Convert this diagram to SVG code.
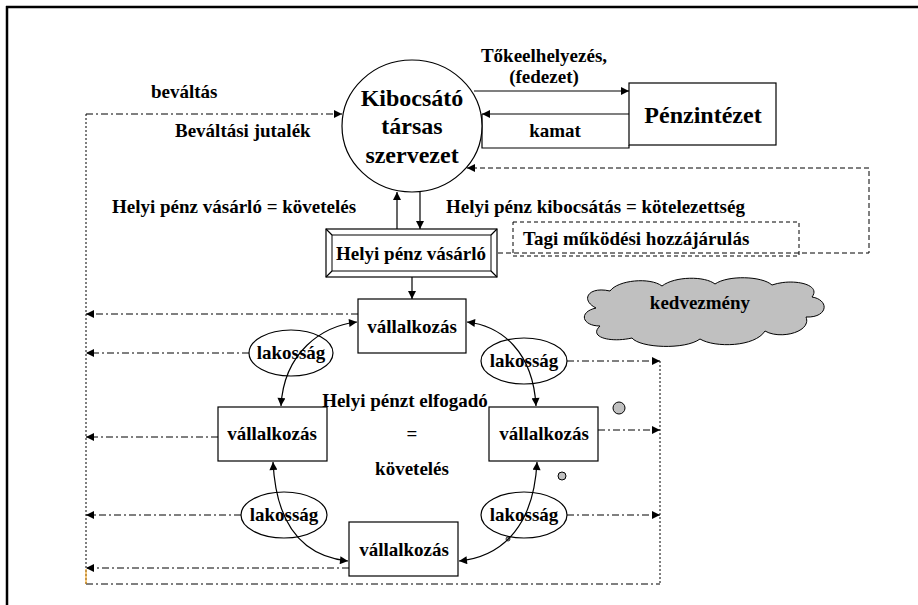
<svg xmlns="http://www.w3.org/2000/svg" width="918" height="605" viewBox="0 0 918 605">
<style>
text{font-family:'Liberation Serif','DejaVu Serif',serif;font-weight:bold;fill:#000}
.t19{font-size:19px}
.t24{font-size:24px}
.mid{text-anchor:middle}
.ln{stroke:#000;stroke-width:1.2;fill:none}
.dd{stroke:#000;stroke-width:1;fill:none;stroke-dasharray:7,3,2,3}
.dash{stroke:#000;stroke-width:1;fill:none;stroke-dasharray:5,3}
.dot{stroke:#000;stroke-width:1;fill:none;stroke-dasharray:2,2}
.box{fill:#fff;stroke:#000;stroke-width:1.2}
</style>
<defs>
<marker id="ah" viewBox="0 0 10 10" refX="10" refY="5" markerWidth="9" markerHeight="8" markerUnits="userSpaceOnUse" orient="auto-start-reverse">
<path d="M0,0 L10,5 L0,10 Z" fill="#000"/>
</marker>
</defs>
<rect width="918" height="605" fill="#fff"/>
<g id="frame">
<line x1="6" y1="7" x2="918" y2="7" stroke="#000" stroke-width="2.5"/>
<line x1="7" y1="6" x2="7" y2="605" stroke="#000" stroke-width="2.5"/>
</g>
<g id="connectors">
<line class="ln" x1="474" y1="91" x2="629" y2="91" marker-end="url(#ah)"/>
<line class="ln" x1="629" y1="114" x2="482" y2="114" marker-end="url(#ah)"/>
<polyline class="ln" points="482,114 482,148 629,148 629,145"/>
<line class="ln" x1="397" y1="229" x2="397" y2="192" marker-end="url(#ah)"/>
<line class="ln" x1="420" y1="192" x2="420" y2="229" marker-end="url(#ah)"/>
<line class="ln" x1="412" y1="277" x2="412" y2="299" marker-end="url(#ah)"/>
<polyline class="dash" points="498,253 869,253 869,168 467,168" marker-end="url(#ah)"/>
<line class="dd" x1="86" y1="114" x2="342" y2="114" marker-end="url(#ah)"/>
<line class="dot" x1="86" y1="114" x2="86" y2="584"/>
<line class="dd" x1="86" y1="584" x2="660" y2="584"/>
<line class="dot" x1="660" y1="361" x2="660" y2="584"/>
<line x1="86" y1="569" x2="86" y2="584" stroke="#f5a623" stroke-width="1.2"/>
<line class="dd" x1="358" y1="314" x2="86" y2="314" marker-end="url(#ah)"/>
<line class="dd" x1="249" y1="353" x2="86" y2="353" marker-end="url(#ah)"/>
<line class="dd" x1="218" y1="437" x2="86" y2="437" marker-end="url(#ah)"/>
<line class="dd" x1="241" y1="515" x2="86" y2="515" marker-end="url(#ah)"/>
<line class="dd" x1="349" y1="568" x2="86" y2="568" marker-end="url(#ah)"/>
<line class="dd" x1="567" y1="361" x2="660" y2="361" marker-end="url(#ah)"/>
<line class="dd" x1="598" y1="430" x2="660" y2="430" marker-end="url(#ah)"/>
<line class="dd" x1="567" y1="515" x2="660" y2="515" marker-end="url(#ah)"/>
</g>
<g id="kibocsato">
<ellipse cx="412" cy="126" rx="70" ry="66" class="box"/>
<text class="t24 mid" x="412" y="106">Kibocsátó</text>
<text class="t24 mid" x="412" y="134">társas</text>
<text class="t24 mid" x="412" y="163">szervezet</text>
</g>
<g id="penzintezet">
<rect x="629" y="83" width="147" height="62" class="box"/>
<text class="t24 mid" x="703" y="123">Pénzintézet</text>
</g>
<g id="labels">
<text class="t19 mid" x="544" y="62">Tőkeelhelyezés,</text>
<text class="t19 mid" x="544" y="83">(fedezet)</text>
<text class="t19 mid" x="555" y="137">kamat</text>
<text class="t19" x="151" y="98">beváltás</text>
<text class="t19" x="175" y="137">Beváltási jutalék</text>
<text class="t19" x="112" y="213">Helyi pénz vásárló = követelés</text>
<text class="t19" x="446" y="213">Helyi pénz kibocsátás = kötelezettség</text>
<text class="t19 mid" x="405" y="407">Helyi pénzt elfogadó</text>
<text class="t19 mid" x="412" y="440">=</text>
<text class="t19 mid" x="412" y="475">követelés</text>
</g>
<g id="tagi">
<rect x="513" y="222" width="286" height="34" fill="none" stroke="#000" stroke-width="1" stroke-dasharray="4,3"/>
<text class="t19" x="523" y="245">Tagi működési hozzájárulás</text>
</g>
<g id="vasarlo">
<rect x="326" y="229" width="171" height="48" class="box"/>
<rect x="332" y="235" width="159" height="36" fill="none" stroke="#000" stroke-width="1"/>
<path d="M326,229 L332,235 M497,229 L491,235 M326,277 L332,271 M497,277 L491,271" class="ln"/>
<text class="t19 mid" x="411" y="260">Helyi pénz vásárló</text>
</g>
<g id="kedvezmeny">
<path d="M600,326 C582,326 578,312 596,308 C580,300 588,286 610,291 C618,280 650,277 662,286 C675,276 705,276 715,284 C728,275 762,276 772,285 C792,278 822,284 812,297 C830,300 828,318 806,317 C812,332 780,340 765,331 C755,347 715,348 700,339 C685,350 640,348 632,338 C610,343 588,337 600,326 Z" fill="#c0c0c0" stroke="#000" stroke-width="1"/>
<text class="t19 mid" x="700" y="309">kedvezmény</text>
</g>
<g id="bubbles">
<circle cx="619" cy="408" r="6" fill="#c0c0c0" stroke="#000" stroke-width="1"/>
<circle cx="562" cy="476" r="4" fill="#c0c0c0" stroke="#000" stroke-width="1"/>
<circle cx="508" cy="539" r="2" fill="#c0c0c0" stroke="#000" stroke-width="0.8"/>
</g>
<g id="v_top">
<rect x="358" y="299" width="108" height="54" class="box"/>
<text class="t19 mid" x="412" y="333">vállalkozás</text>
</g>
<g id="v_left">
<rect x="218" y="407" width="109" height="54" class="box"/>
<text class="t19 mid" x="272" y="440">vállalkozás</text>
</g>
<g id="v_right">
<rect x="489" y="407" width="109" height="54" class="box"/>
<text class="t19 mid" x="544" y="440">vállalkozás</text>
</g>
<g id="v_bottom">
<rect x="349" y="522" width="109" height="54" class="box"/>
<text class="t19 mid" x="404" y="556">vállalkozás</text>
</g>
<g id="lak_tl">
<ellipse cx="291" cy="353" rx="42" ry="23" class="box"/>
<text class="t19 mid" x="291" y="359">lakosság</text>
</g>
<g id="lak_bl">
<ellipse cx="284" cy="515" rx="43" ry="23" class="box"/>
<text class="t19 mid" x="284" y="521">lakosság</text>
</g>
<g id="lak_tr">
<ellipse cx="524" cy="361" rx="43" ry="23" class="box"/>
<text class="t19 mid" x="524" y="367">lakosság</text>
</g>
<g id="lak_br">
<ellipse cx="524" cy="515" rx="43" ry="23" class="box"/>
<text class="t19 mid" x="524" y="521">lakosság</text>
</g>
<g id="curves">
<path class="ln" d="M357,322 C322,326 284,352 281,406" marker-start="url(#ah)" marker-end="url(#ah)"/>
<path class="ln" d="M467,322 C502,326 533,352 536,406" marker-start="url(#ah)" marker-end="url(#ah)"/>
<path class="ln" d="M273,462 C276,522 300,556 348,561" marker-start="url(#ah)" marker-end="url(#ah)"/>
<path class="ln" d="M537,462 C534,522 506,556 459,561" marker-start="url(#ah)" marker-end="url(#ah)"/>
</g>
</svg>
